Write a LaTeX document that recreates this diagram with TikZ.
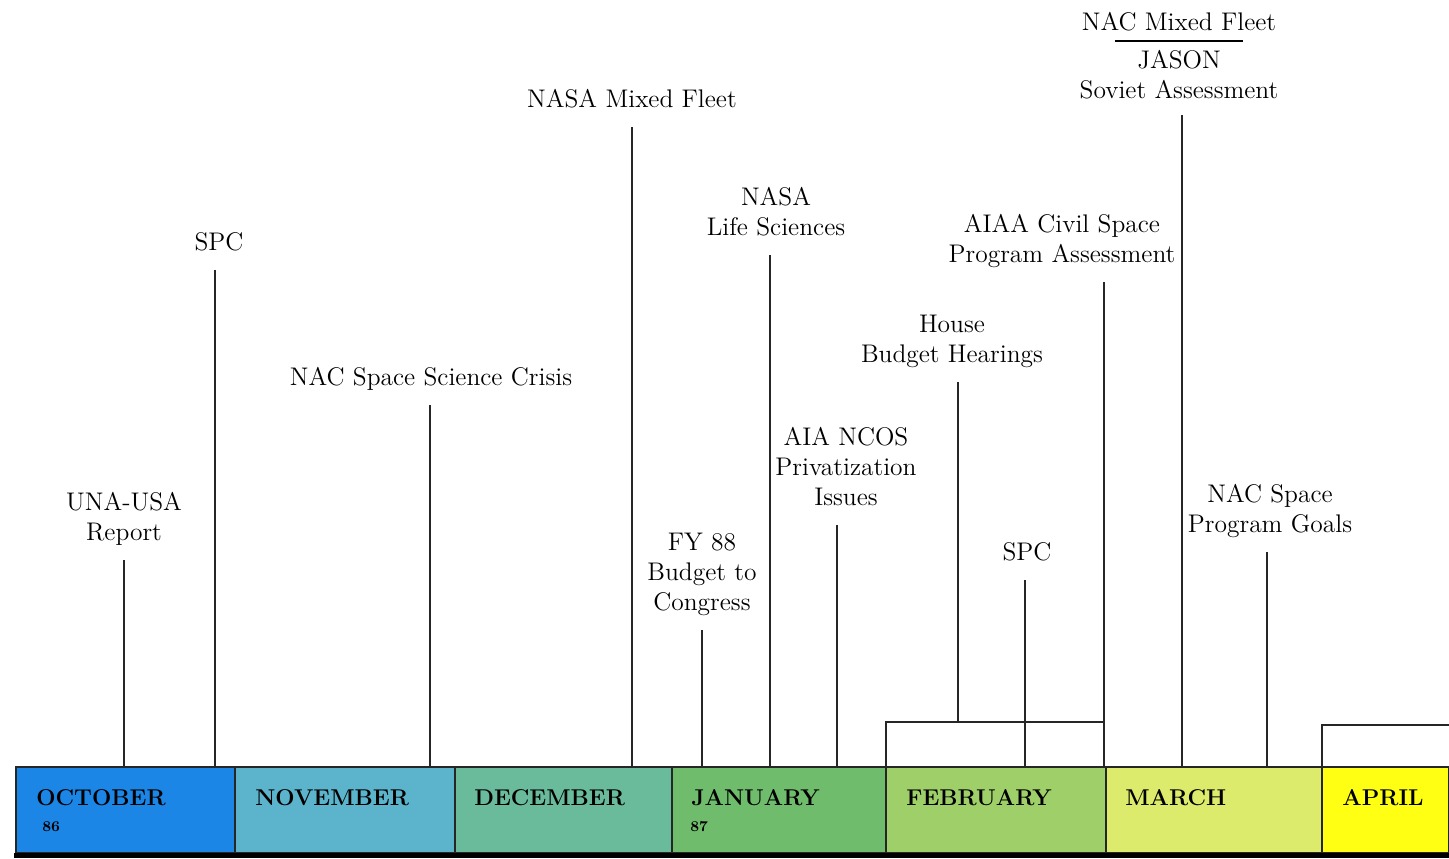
\documentclass[tikz,border=0pt]{standalone}
\usetikzlibrary{positioning}
\definecolor{cOct}{RGB}{28,134,230}
\definecolor{cNov}{RGB}{92,180,204}
\definecolor{cDec}{RGB}{106,186,156}
\definecolor{cJan}{RGB}{110,188,108}
\definecolor{cFeb}{RGB}{158,207,104}
\definecolor{cMar}{RGB}{220,235,108}
\definecolor{cApr}{RGB}{255,255,20}
\begin{document}
\begin{tikzpicture}[x=0.02cm, y=-0.02cm,
    lbl/.style={align=center, inner xsep=0pt, inner ysep=6pt, anchor=south,
      font=\fontsize{14.5}{17}\selectfont, execute at end node=\strut},
    month/.style={anchor=base west, inner sep=0pt, font=\fontsize{13}{15}\selectfont\bfseries},
    yr/.style={anchor=base west, inner sep=0pt, font=\fontsize{8.5}{9}\selectfont\bfseries},
    tick/.style={line width=1pt, black!85}]
    \useasboundingbox (0,0) rectangle (1449,858);

    % month bar
    \foreach \xa/\xb/\col in {16/235/cOct, 235/455/cNov, 455/672/cDec, 672/886/cJan,
        886/1106/cFeb, 1106/1322/cMar, 1322/1449/cApr}
        \draw[tick, fill=\col] (\xa,767) rectangle (\xb,853);
    \fill (14,853) rectangle (1449,858);

    \node[month] (oct) at (36,805) {OCTOBER};
    \node[month] (nov) at (255,805) {NOVEMBER};
    \node[month] (dec) at (474,805) {DECEMBER};
    \node[month] (jan) at (691,805) {JANUARY};
    \node[month] (feb) at (906,805) {FEBRUARY};
    \node[month] (mar) at (1125,805) {MARCH};
    \node[month] (apr) at (1342,805) {APRIL};
    \node[yr] (y86) at (42,831) {86};
    \node[yr] (y87) at (690,831) {87};

    % feet of the event lines
    \coordinate (t1) at (124,767);
    \coordinate (t2) at (215,767);
    \coordinate (t3) at (430,767);
    \coordinate (t4) at (632,767);
    \coordinate (t5) at (702,767);
    \coordinate (t6) at (770,767);
    \coordinate (t7) at (837,767);
    \coordinate (t8) at (958,722);
    \coordinate (t9) at (1025,767);
    \coordinate (t10) at (1104,767);
    \coordinate (t11) at (1182,767);
    \coordinate (t12) at (1267,767);
    \coordinate (febl) at (886,767);
    \coordinate (febtop) at (1104,722);
    \coordinate (aprl) at (1322,767);
    \coordinate (aprtop) at (1449,725);

    % events
    \node[lbl] (unausa) at (124,560) {UNA-USA\\Report};
    \node[lbl] (spca) at (219,270) {SPC};
    \node[lbl] (crisis) at (431,405) {NAC Space Science Crisis};
    \node[lbl] (mixed) at (632,127) {NASA Mixed Fleet};
    \node[lbl] (fy88) at (702,630) {FY 88\\Budget to\\Congress};
    \node[lbl] (life) at (776,255) {NASA\\Life Sciences};
    \node[lbl] (ncos) at (846,525) {AIA NCOS\\Privatization\\Issues};
    \node[lbl] (house) at (952,382) {House\\Budget Hearings};
    \node[lbl] (spcb) at (1027,580) {SPC};
    \node[lbl] (aiaa) at (1062,282) {AIAA Civil Space\\Program Assessment};
    \node[lbl, inner ysep=4.3pt] (jason) at (1179,115) {NAC Mixed Fleet\\[-10.5pt]\rule{2.56cm}{1.2pt}\\[-2pt]JASON\\Soviet Assessment};
    \node[lbl] (goals) at (1270,552) {NAC Space\\Program Goals};

    \draw[tick] (t1) -- (t1 |- unausa.south);
    \draw[tick] (t2) -- (t2 |- spca.south);
    \draw[tick] (t3) -- (t3 |- crisis.south);
    \draw[tick] (t4) -- (t4 |- mixed.south);
    \draw[tick] (t5) -- (t5 |- fy88.south);
    \draw[tick] (t6) -- (t6 |- life.south);
    \draw[tick] (t7) -- (t7 |- ncos.south);
    \draw[tick] (t8) -- (t8 |- house.south);
    \draw[tick] (t9) -- (t9 |- spcb.south);
    \draw[tick] (t10) -- (t10 |- aiaa.south);
    \draw[tick] (t11) -- (t11 |- jason.south);
    \draw[tick] (t12) -- (t12 |- goals.south);
    \draw[tick] (febl) |- (febtop);
    \draw[tick] (aprl) |- (aprtop);
\end{tikzpicture}
\end{document}
